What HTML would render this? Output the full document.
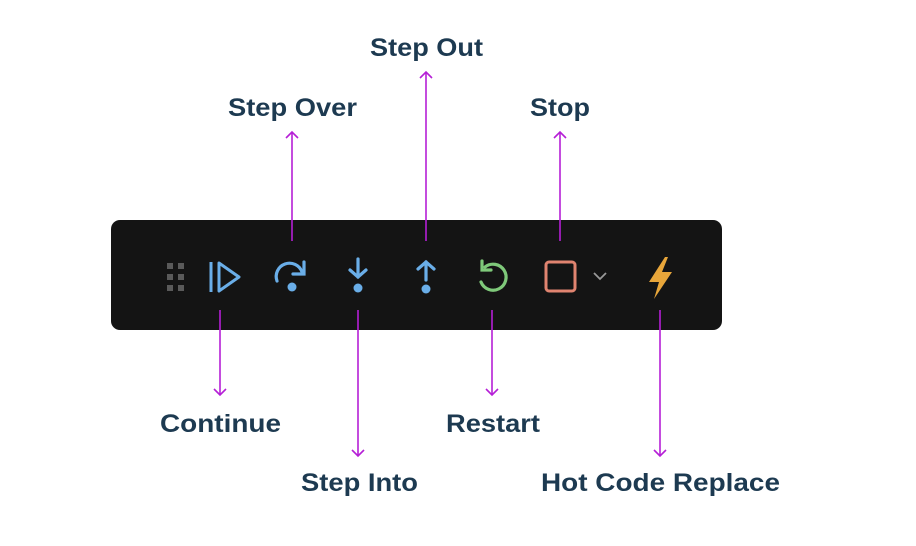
<!DOCTYPE html>
<html><head><style>html,body{margin:0;padding:0;background:#fff}svg{display:block}</style></head>
<body>
<svg width="916" height="546" viewBox="0 0 916 546" xmlns="http://www.w3.org/2000/svg">
<defs>
<marker id="ah" markerWidth="14" markerHeight="14" refX="7" refY="7" orient="auto" markerUnits="userSpaceOnUse">
<path d="M1,1 L7,7 L1,13" fill="none" stroke="#b51fd6" stroke-width="1.6"/>
</marker>
</defs>
<rect x="111" y="220" width="611" height="110" rx="9" fill="#141414"/>
<!-- grip -->
<g fill="#5a5a5a">
<rect x="167" y="263" width="6" height="6"/><rect x="178" y="263" width="6" height="6"/>
<rect x="167" y="274" width="6" height="6"/><rect x="178" y="274" width="6" height="6"/>
<rect x="167" y="285" width="6" height="6"/><rect x="178" y="285" width="6" height="6"/>
</g>
<!-- continue -->
<g stroke="#6aaee8" stroke-width="3" fill="none" stroke-linejoin="round">
<line x1="211" y1="262" x2="211" y2="292"/>
<path d="M219,263 L239,277 L219,291 Z"/>
</g>
<!-- step over -->
<g stroke="#6aaee8" stroke-width="3.2" fill="none" stroke-linecap="round">
<path d="M277,281 A13,13 0 0 1 302,272"/>
<path d="M304,262 L304,274 L293,274"/>
</g>
<circle cx="292" cy="287" r="4.5" fill="#6aaee8"/>
<!-- step into -->
<g stroke="#6aaee8" stroke-width="3.2" fill="none" stroke-linecap="round">
<line x1="358" y1="259" x2="358" y2="277"/><path d="M350,270 L358,277 L366,270"/>
</g>
<circle cx="358" cy="288" r="4.5" fill="#6aaee8"/>
<!-- step out -->
<g stroke="#6aaee8" stroke-width="3.2" fill="none" stroke-linecap="round">
<line x1="426" y1="262" x2="426" y2="280"/><path d="M418,269 L426,262 L434,269"/>
</g>
<circle cx="426" cy="289" r="4.5" fill="#6aaee8"/>
<!-- restart -->
<g stroke="#7fc97a" stroke-width="3.2" fill="none" stroke-linecap="round">
<path d="M485,267 A13,13 0 1 1 481,282"/>
<path d="M482,261 L482,270 L491,270"/>
</g>
<!-- stop -->
<rect x="546" y="262" width="29" height="29" rx="3" fill="none" stroke="#e08470" stroke-width="3"/>
<path d="M594,273 L600,279 L606,273" fill="none" stroke="#999" stroke-width="1.8"/>
<!-- bolt -->
<path d="M665,257 L649,282 L659,282 L654,299 L672,272 L662,272 L668,257 Z" fill="#e8a63a"/>
<!-- arrows -->
<g stroke="#b51fd6" stroke-width="1.6" fill="none">
<line x1="292" y1="241" x2="292" y2="132" marker-end="url(#ah)"/>
<line x1="426" y1="241" x2="426" y2="72" marker-end="url(#ah)"/>
<line x1="560" y1="241" x2="560" y2="132" marker-end="url(#ah)"/>
<line x1="220" y1="310" x2="220" y2="395" marker-end="url(#ah)"/>
<line x1="358" y1="310" x2="358" y2="456" marker-end="url(#ah)"/>
<line x1="492" y1="310" x2="492" y2="395" marker-end="url(#ah)"/>
<line x1="660" y1="310" x2="660" y2="456" marker-end="url(#ah)"/>
</g>
<g font-family="Liberation Sans, sans-serif" font-size="25" font-weight="bold" fill="#1d3a51">
<text x="370" y="56" textLength="113" lengthAdjust="spacingAndGlyphs">Step Out</text>
<text x="228" y="116" textLength="129" lengthAdjust="spacingAndGlyphs">Step Over</text>
<text x="530" y="116" textLength="60" lengthAdjust="spacingAndGlyphs">Stop</text>
<text x="160" y="432" textLength="121" lengthAdjust="spacingAndGlyphs">Continue</text>
<text x="446" y="432" textLength="94" lengthAdjust="spacingAndGlyphs">Restart</text>
<text x="301" y="491" textLength="117" lengthAdjust="spacingAndGlyphs">Step Into</text>
<text x="541" y="491" textLength="239" lengthAdjust="spacingAndGlyphs">Hot Code Replace</text>
</g>
</svg>
</body></html>
